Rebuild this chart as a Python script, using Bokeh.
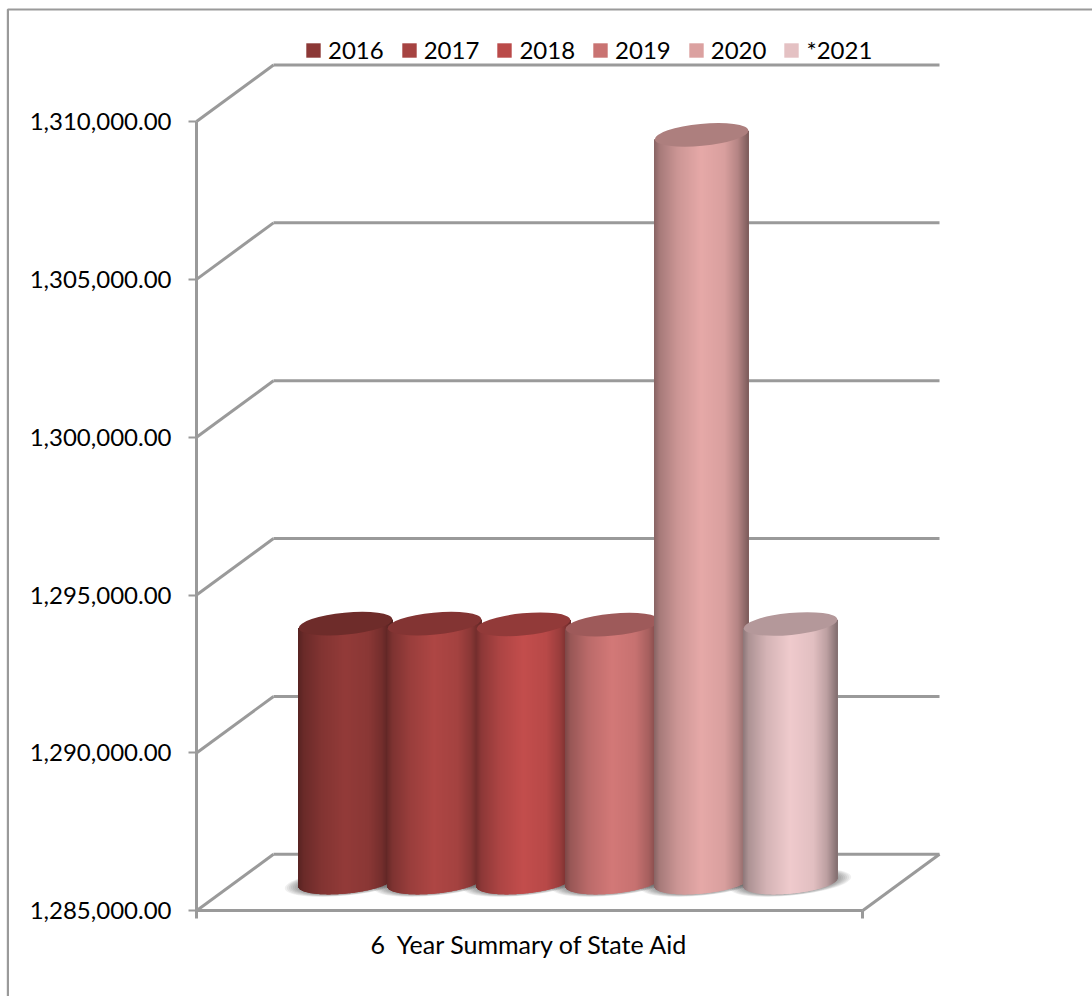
import math
from bokeh.embed import file_html
from bokeh.models import (FixedTicker, Legend, LegendItem, NumeralTickFormatter, Range1d)
from bokeh.plotting import figure
from bokeh.resources import INLINE

# ---- data
years = ["2016", "2017", "2018", "2019", "2020", "*2021"]
state_aid = [1293200, 1293200, 1293180, 1293170, 1308680, 1293190]
series_colors = ["#8C3836", "#A64341", "#BA4A49", "#C97372", "#DBA1A0", "#E4C1C3"]
value_ticks = [1285000, 1290000, 1295000, 1300000, 1305000, 1310000]
category_label = "6  Year Summary of State Aid"

# ---- geometry / style
BASE = 1285000
PX = 789.3 / 25000          # pixels per data unit on the value axis
ORIGIN_X, ORIGIN_Y = 196, 910.3
W, H = 1092, 996
DX, DY = 77, 56.5 / PX      # depth of the 3-D box
FRONT_W = 666
BAR_W, BAR_H = 94, 22
TILT = math.radians(5.5)
FIRST_X, STEP_X = 149, 89
GREY = "#9A9A9A"
FONT = "Lato"
FS = "24px"
SHADE = [(-1, .62), (-.88, .76), (-.5, .93), (0, 1.05), (.5, .99), (.78, .83), (1, .58)]


def shade(t):
    for (a, fa), (b, fb) in zip(SHADE, SHADE[1:]):
        if t <= b:
            return fa + (fb - fa) * (t - a) / (b - a)
    return SHADE[-1][1]


def scaled(color, f):
    rgb = [int(color[i:i + 2], 16) for i in (1, 3, 5)]
    return "#%02x%02x%02x" % tuple(min(255, int(c * f)) for c in rgb)


# tilted-ellipse outline, in pixels relative to the centre (y up)
a, b = BAR_W / 2, BAR_H / 2
cs, sn = math.cos(TILT), math.sin(TILT)
QA = cs * cs / a**2 + sn * sn / b**2
QB = 2 * sn * cs * (1 / a**2 - 1 / b**2)
QC = sn * sn / a**2 + cs * cs / b**2


def mid_edge(u):
    return -QB * u / (2 * QC)


def low_edge(u):
    d = max(0.0, QB * QB * u * u - 4 * QC * (QA * u * u - 1))
    return (-QB * u - math.sqrt(d)) / (2 * QC)


p = figure(width=W, height=H, output_backend="svg", toolbar_location=None,
           x_range=Range1d(-ORIGIN_X, W - ORIGIN_X),
           y_range=Range1d(BASE - (H - ORIGIN_Y) / PX, BASE + ORIGIN_Y / PX),
           min_border=0, min_border_left=0, min_border_right=0, min_border_top=0, min_border_bottom=0,
           outline_line_color=None, background_fill_color="white", tools="")
p.grid.visible = False

# value axis
ya = p.yaxis[0]
ya.fixed_location = 0
ya.ticker = FixedTicker(ticks=value_ticks, minor_ticks=[])
ya.formatter = NumeralTickFormatter(format="0,0.00")
ya.bounds = (value_ticks[0], value_ticks[-1])
ya.axis_line_color = GREY
ya.axis_line_width = 3
ya.major_tick_line_color = GREY
ya.major_tick_line_width = 2
ya.major_tick_out = 8
ya.major_tick_in = 0
ya.minor_tick_line_color = None
ya.major_label_standoff = 17
ya.major_label_text_font = FONT
ya.major_label_text_font_size = FS
ya.major_label_text_color = "black"

# category axis
xa = p.xaxis[0]
xa.fixed_location = BASE
xa.ticker = FixedTicker(ticks=[FRONT_W / 2], minor_ticks=[0, FRONT_W])
xa.major_label_overrides = {FRONT_W / 2: category_label.replace("  ", " \u00a0")}
xa.bounds = (0, FRONT_W)
xa.axis_line_color = GREY
xa.axis_line_width = 3
xa.major_tick_line_color = None
xa.major_tick_out = 0
xa.major_tick_in = 0
xa.minor_tick_line_color = GREY
xa.minor_tick_line_width = 3
xa.minor_tick_out = 8
xa.minor_tick_in = 0
xa.major_label_standoff = 10
xa.major_label_text_font = FONT
xa.major_label_text_font_size = "25px"
xa.major_label_text_color = "black"

# outer chart frame
frame_x = 7.4 - ORIGIN_X
frame_y = BASE + (ORIGIN_Y - 9) / PX
p.line(x=[frame_x, frame_x, W], y=[p.y_range.start, frame_y, frame_y], line_color=GREY, line_width=2.2)

# back wall, side wall and floor of the box
back = [v + DY for v in value_ticks]
p.segment(x0=[0] * 6, y0=value_ticks, x1=[DX] * 6, y1=back, line_color=GREY, line_width=3)
p.segment(x0=[DX] * 6, y0=back, x1=[FRONT_W + DX] * 6, y1=back, line_color=GREY, line_width=3)
p.segment(x0=[FRONT_W], y0=[BASE], x1=[FRONT_W + DX], y1=[BASE + DY], line_color=GREY, line_width=3)

# cylinders
base_y = BASE + DY / 2
centers = [FIRST_X + i * STEP_X for i in range(len(years))]
for cx in centers:
    for k in range(2, 16, 2):
        p.ellipse(x=[cx], y=[base_y], width=[BAR_W + 2 * k], height=[BAR_H + .3 * k],
                  angle=[TILT], width_units="screen", height_units="screen",
                  fill_color="black", fill_alpha=.06, line_color=None)

items = []
for label, v, c, cx in zip(years, state_aid, series_colors, centers):
    top_y = v + DY / 2
    flat = p.vbar(x=[cx], top=[top_y], bottom=[base_y], width=BAR_W - 30,
                  fill_color=c, line_color=None)
    xs, tops, bottoms, colors = [], [], [], []
    for i in range(BAR_W):
        u = i + .5 - a
        xs.append(cx + u)
        tops.append(top_y + mid_edge(u) / PX)
        bottoms.append(base_y + low_edge(u) / PX)
        colors.append(scaled(c, shade(u / a)))
    p.vbar(x=xs, top=tops, bottom=bottoms, width=2, fill_color=colors, fill_alpha=1, line_color=None)
    p.ellipse(x=[cx], y=[top_y], width=[BAR_W], height=[BAR_H], angle=[TILT],
              width_units="screen", height_units="screen",
              fill_color=scaled(c, .79), line_color=None)
    items.append(LegendItem(label=label, renderers=[flat]))

legend = Legend(items=items, orientation="horizontal", location=(304, 932),
                glyph_width=18, glyph_height=18, spacing=16, padding=0, margin=0,
                label_standoff=6, label_text_font=FONT, label_text_font_size=FS,
                label_text_color="black", border_line_color=None, background_fill_alpha=0)
p.add_layout(legend, "center")

open("out.html", "w").write(file_html(p, INLINE))
